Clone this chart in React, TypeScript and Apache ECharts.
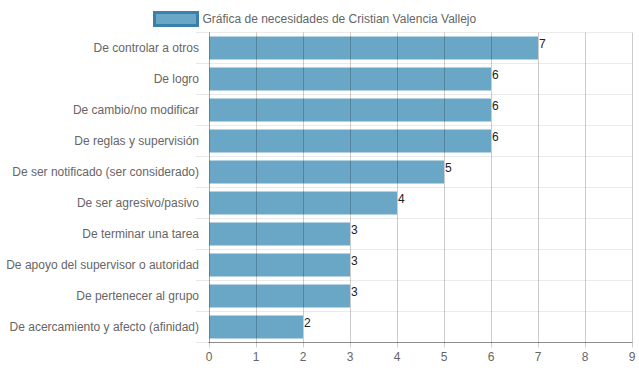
import React, { useEffect, useRef } from "react";
import * as echarts from "echarts";

const categories = [
  "De controlar a otros",
  "De logro",
  "De cambio/no modificar",
  "De reglas y supervisión",
  "De ser notificado (ser considerado)",
  "De ser agresivo/pasivo",
  "De terminar una tarea",
  "De apoyo del supervisor o autoridad",
  "De pertenecer al grupo",
  "De acercamiento y afecto (afinidad)",
];
const values = [7, 6, 6, 6, 5, 4, 3, 3, 3, 2];
const seriesName = "Gráfica de necesidades de Cristian Valencia Vallejo";

export default function App() {
  const ref = useRef<HTMLDivElement>(null);
  useEffect(() => {
    if (!ref.current) return;
    const chart = echarts.init(ref.current, null, { renderer: "svg" });
    const font = "'Liberation Sans', Arial, Helvetica, sans-serif";
    chart.setOption({
      animation: false,
      textStyle: { fontFamily: font },
      legend: {
        data: [seriesName],
        left: 148,
        top: 6,
        itemWidth: 43,
        itemHeight: 13,
        itemGap: 6,
        icon: "rect",
        itemStyle: { borderColor: "#3b80a8", borderWidth: 3, color: "#6aa6c5" },
        textStyle: { color: "#666", fontSize: 12, fontFamily: font },
      },
      grid: { left: 209, right: 7, top: 32.5, bottom: 29.5, containLabel: false },
      xAxis: {
        type: "value",
        min: 0,
        max: 9,
        interval: 1,
        z: 5,
        axisLine: { show: true, lineStyle: { color: "rgba(0,0,0,0.4)", width: 1 } },
        axisTick: { show: true, length: 5, lineStyle: { color: "rgba(0,0,0,0.2)" } },
        axisLabel: { color: "#666", fontSize: 12, margin: 8, fontFamily: font },
        splitLine: { show: true, lineStyle: { color: "rgba(0,0,0,0.2)", width: 1 } },
      },
      yAxis: {
        type: "category",
        data: categories,
        inverse: true,
        axisLine: { show: true, lineStyle: { color: "rgba(0,0,0,0.2)" } },
        axisTick: { show: true, length: 13, lineStyle: { color: "#e8e8e8" } },
        axisLabel: { color: "#666", fontSize: 12, margin: 10, fontFamily: font },
        splitLine: { show: true, lineStyle: { color: "#ebebeb", width: 1 } },
      },
      series: [
        {
          name: seriesName,
          type: "bar",
          data: values,
          barCategoryGap: "26%",
          itemStyle: { color: "#6aa6c5" },
          label: {
            show: true,
            position: "right",
            distance: 1,
            offset: [0, -4],
            color: "#222",
            fontSize: 12,
            fontFamily: font,
          },
        },
      ],
    });
    return () => chart.dispose();
  }, []);
  return <div ref={ref} style={{ width: 639, height: 372, position: "absolute", left: 0, top: 0 }} />;
}
